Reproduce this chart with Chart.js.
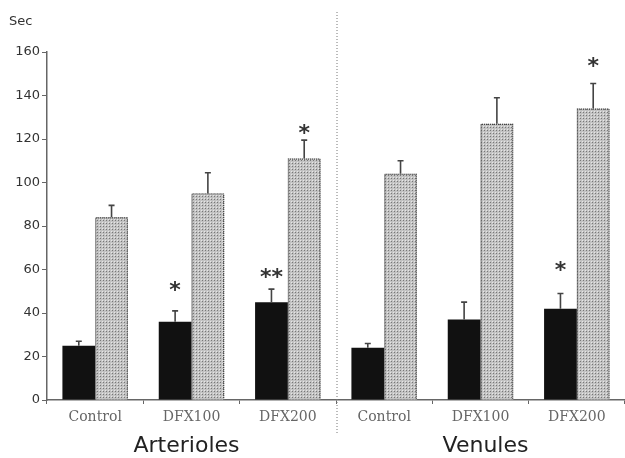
<!DOCTYPE html>
<html>
<head>
<meta charset="utf-8">
<script src="https://cdn.jsdelivr.net/npm/chart.js@4"></script>
<style>
  html, body { margin: 0; padding: 0; background: #fff; }
  #wrap { width: 625px; height: 458px; }
</style>
</head>
<body>
<div id="wrap"><canvas id="chart" width="625" height="458"></canvas></div>
<script>
// data
const categories = ["Control", "DFX100", "DFX200", "Control", "DFX100", "DFX200"];
const groupNames = ["Arterioles", "Venules"];
const blackValues = [25, 36, 45, 24, 37, 42];
const blackErr = [2, 5, 6, 2, 8, 7];
const grayValues = [84, 95, 111, 104, 127, 134];
const grayErr = [5.5, 9.5, 8.5, 6, 12, 11.5];
// significance marks and the height (in Sec) where they sit
const blackStars = ["", "*", "**", "", "", "*"];
const blackStarAt = [0, 52, 58, 0, 0, 61];
const grayStars = ["", "", "*", "", "", "*"];
const grayStarAt = [0, 0, 124, 0, 0, 155];
const yTicks = [0, 20, 40, 60, 80, 100, 120, 140, 160];

// dotted grey fill like the printed screen tone
function makePattern() {
  const c = document.createElement("canvas");
  c.width = 3; c.height = 3;
  const g = c.getContext("2d");
  g.fillStyle = "#c2c2c2";
  g.fillRect(0, 0, 3, 3);
  g.fillStyle = "#e6e6e6";
  g.fillRect(0, 0, 1, 1);
  g.fillStyle = "#777";
  g.fillRect(1, 1, 1, 1);
  return g.createPattern(c, "repeat");
}

const errs = [blackErr, grayErr];
const stars = [[blackStars, blackStarAt], [grayStars, grayStarAt]];

const extras = {
  id: "extras",
  afterDatasetsDraw(chart) {
    const ctx = chart.ctx;
    const x = chart.scales.x, y = chart.scales.y;
    ctx.save();
    // dotted outline of the grey bars
    chart.getDatasetMeta(1).data.forEach((bar) => {
      ctx.strokeStyle = "#444";
      ctx.lineWidth = 1.2;
      ctx.setLineDash([1, 1]);
      ctx.beginPath();
      ctx.moveTo(bar.x - bar.width / 2 + 0.6, bar.base);
      ctx.lineTo(bar.x - bar.width / 2 + 0.6, bar.y + 0.6);
      ctx.lineTo(bar.x + bar.width / 2 - 0.6, bar.y + 0.6);
      ctx.lineTo(bar.x + bar.width / 2 - 0.6, bar.base);
      ctx.stroke();
    });
    ctx.setLineDash([]);
    // error bars (upper half only)
    chart.data.datasets.forEach((ds, di) => {
      const meta = chart.getDatasetMeta(di);
      meta.data.forEach((bar, i) => {
        const top = y.getPixelForValue(ds.data[i] + errs[di][i]);
        ctx.strokeStyle = "#444";
        ctx.lineWidth = 1.6;
        ctx.beginPath();
        ctx.moveTo(bar.x, bar.y);
        ctx.lineTo(bar.x, top);
        ctx.moveTo(bar.x - 3, top);
        ctx.lineTo(bar.x + 3, top);
        ctx.stroke();
        // asterisks
        const s = stars[di][0][i];
        if (s) {
          ctx.fillStyle = "#333";
          ctx.font = "bold 22px 'DejaVu Sans'";
          ctx.textAlign = "center";
          ctx.textBaseline = "middle";
          ctx.fillText(s, bar.x, y.getPixelForValue(stars[di][1][i]) + 4);
        }
      });
    });
    // dotted divider between the two vessel groups
    const xd = (x.getPixelForValue(2) + x.getPixelForValue(3)) / 2 + 1;
    ctx.strokeStyle = "#777";
    ctx.lineWidth = 1;
    ctx.setLineDash([1, 2]);
    ctx.beginPath();
    ctx.moveTo(xd, 12);
    ctx.lineTo(xd, 434);
    ctx.stroke();
    ctx.setLineDash([]);
    // group names
    ctx.fillStyle = "#222";
    ctx.font = "22px 'DejaVu Sans'";
    ctx.textAlign = "center";
    ctx.textBaseline = "middle";
    ctx.fillText(groupNames[0], x.getPixelForValue(1) - 5, 446);
    ctx.fillText(groupNames[1], x.getPixelForValue(4) + 5, 446);
    // unit label
    ctx.font = "13px 'DejaVu Sans'";
    ctx.fillStyle = "#333";
    ctx.textAlign = "left";
    ctx.fillText("Sec", 9, 22);
    ctx.restore();
  }
};

new Chart(document.getElementById("chart"), {
  type: "bar",
  data: {
    labels: categories,
    datasets: [
      {
        label: "black",
        data: blackValues,
        backgroundColor: "#111",
        borderWidth: 0,
        categoryPercentage: 0.68,
        barPercentage: 1.0,
      },
      {
        label: "grey",
        data: grayValues,
        backgroundColor: makePattern(),
        borderWidth: 0,
        categoryPercentage: 0.68,
        barPercentage: 1.0,
      },
    ],
  },
  options: {
    responsive: false,
    animation: false,
    layout: { padding: { left: 0, right: -4, top: 52, bottom: 0 } },
    plugins: { legend: { display: false }, tooltip: { enabled: false } },
    scales: {
      x: {
        grid: { display: true, drawOnChartArea: false, tickLength: 4, color: "#666", offset: true },
        border: { color: "#666", width: 1.5 },
        ticks: {
          color: "#666",
          font: { family: "'DejaVu Serif'", size: 14 },
          padding: 5,
          maxRotation: 0,
          autoSkip: false,
        },
        afterFit: (s) => { s.height = 58; },
      },
      y: {
        min: 0,
        max: 160,
        afterBuildTicks: (s) => { s.ticks = yTicks.map((v) => ({ value: v })); },
        grid: { display: true, drawOnChartArea: false, tickLength: 5, color: "#666" },
        border: { color: "#666", width: 1.5 },
        ticks: {
          color: "#333",
          font: { family: "'DejaVu Sans'", size: 13 },
          padding: 2,
        },
        afterFit: (s) => { s.width = 47; },
      },
    },
  },
  plugins: [extras],
});
</script>
</body>
</html>
